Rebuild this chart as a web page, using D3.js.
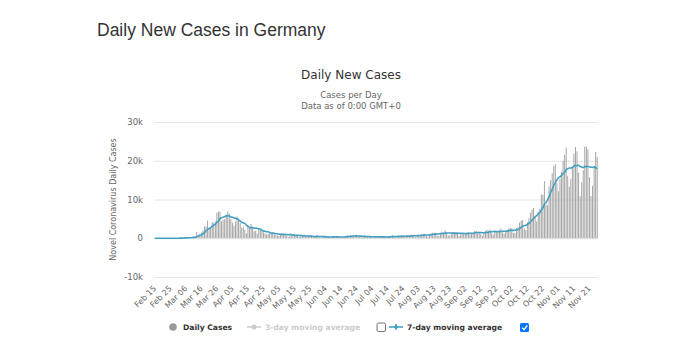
<!DOCTYPE html>
<html>
<head>
<meta charset="utf-8">
<script src="https://cdn.jsdelivr.net/npm/d3@7"></script>
<style>
    body { margin: 0; background: #fff; }
    svg { display: block; }
</style>
</head>
<body>
<div id="chartPlaceholder"></div>
<script>
/* first and last day shown on the category axis */
const firstDay = new Date(2020, 1, 15);
const lastDay = new Date(2020, 10, 26);

/* daily new cases, Feb 15 .. Nov 26 */
const casesFeb = [0, 0, 0, 0, 0, 0, 0, 0, 0, 0, 2, 6, 18, 21, 13];
const casesMar = [51, 29, 37, 66, 220, 188, 129, 241, 136, 281, 451, 170, 1597, 910, 1210, 1477, 1985, 3070, 2993, 4528,
    2365, 2660, 4183, 3930, 4337, 6615, 6933, 6824, 4400, 4790, 4923];
const casesApr = [6064, 6922, 6365, 4933, 4031, 3251, 4289, 5633, 4885, 3990, 2737, 2946, 2218, 1287, 3394, 2945, 3699,
    2945, 1842, 1881, 1226, 2357, 2481, 1870, 1514, 1257, 988, 1154, 1304, 1478];
const casesMay = [1639, 945, 793, 679, 685, 947, 1284, 1209, 1251, 667, 357, 933, 798, 933, 913, 620, 583, 342, 513, 797,
    745, 460, 638, 431, 289, 432, 362, 353, 741, 738, 286];
const casesJun = [181, 213, 342, 394, 507, 407, 301, 214, 350, 318, 555, 348, 247, 192, 378, 345, 580, 770, 601, 687,
    537, 503, 587, 630, 477, 687, 256, 262, 498, 466];
const casesJul = [503, 446, 422, 239, 219, 397, 442, 442, 432, 378, 248, 159, 249, 422, 534, 583, 815, 202, 200, 522,
    454, 569, 815, 781, 305, 340, 633, 557, 902, 870, 955];
const casesAug = [240, 509, 879, 741, 1045, 1147, 1122, 555, 436, 966, 1226, 1445, 1449, 1415, 625, 561, 1390, 1707, 1510,
    2034, 1427, 782, 711, 1278, 1576, 1507, 1571, 1479, 610, 1045, 1256];
const casesSep = [1218, 1311, 1453, 1630, 988, 1124, 1348, 1820, 1892, 1484, 1630, 1152, 627, 1407, 1901, 2194, 1916,
    2297, 1345, 922, 1769, 1821, 1769, 2153, 2507, 1411, 1192, 1798, 2089, 2503];
const casesOct = [2673, 2563, 1410, 1382, 2639, 2828, 4058, 4516, 4721, 2467, 2106, 4122, 5132, 6638, 7334, 7830, 5587,
    4325, 6868, 7595, 11287, 11242, 14714, 8685, 8523, 13359, 14964, 16774, 18681, 19059, 14177];
const casesNov = [12097, 15352, 17214, 19990, 21506, 23399, 16017, 13363, 15332, 18487, 21866, 23542, 22461, 16947,
    10824, 14419, 17561, 23648, 23609, 22964, 15741, 10864, 13554, 18633, 22268, 21000];

const yTicks = [-10000, 0, 10000, 20000, 30000];
const labelEvery = 10;

const chartSizes = {
    width: 690,
    height: 353,
    left: 154,
    right: 598,
    top: 122,
    bottom: 277
};

const lineColor = "#41a1c3";
const barColor = "#a2a2a2";
const baseFont = "'DejaVu Sans', Verdana, sans-serif";

var dailyCases = [].concat(casesFeb, casesMar, casesApr, casesMay, casesJun, casesJul, casesAug, casesSep, casesOct, casesNov);
var days = d3.timeDay.range(firstDay, d3.timeDay.offset(lastDay, 1));
var fmt = d3.timeFormat("%b %d");

/* 7-day trailing moving average of the daily values */
var movingAvg = dailyCases.map((v, i) => d3.mean(dailyCases.slice(Math.max(0, i - 6), i + 1)));

var svg = d3.select("#chartPlaceholder")
            .append("svg")
            .attr("width", chartSizes.width)
            .attr("height", chartSizes.height)
            .style("font-family", baseFont);

svg.append("text")
   .attr("x", 97)
   .attr("y", 36)
   .attr("font-family", "'Liberation Sans', Arial, sans-serif")
   .attr("font-size", "17.5px")
   .attr("fill", "#333")
   .text("Daily New Cases in Germany");

svg.append("text")
   .attr("x", 351)
   .attr("y", 79)
   .attr("text-anchor", "middle")
   .attr("font-size", "12px")
   .attr("fill", "#333")
   .text("Daily New Cases");

var sub = svg.append("g")
             .attr("text-anchor", "middle")
             .attr("font-size", "8.5px")
             .attr("fill", "#666");
sub.append("text").attr("x", 351).attr("y", 98).text("Cases per Day");
sub.append("text").attr("x", 351).attr("y", 109).text("Data as of 0:00 GMT+0");

var x = d3.scaleBand()
          .domain(d3.range(dailyCases.length))
          .range([chartSizes.left, chartSizes.right])
          .paddingInner(0.38)
          .paddingOuter(0.2);

var y = d3.scaleLinear()
          .domain([yTicks[0], yTicks[yTicks.length - 1]])
          .range([chartSizes.bottom, chartSizes.top]);

/* grid lines */
svg.append("g")
   .attr("transform", `translate(${chartSizes.left},0)`)
   .call(d3.axisLeft(y).tickValues(yTicks).tickSize(-(chartSizes.right - chartSizes.left)).tickFormat(""))
   .call(g => g.select(".domain").remove())
   .call(g => g.selectAll("line").attr("stroke", "#e6e6e6"));

/* y labels */
svg.append("g")
   .attr("transform", `translate(${chartSizes.left - 8},0)`)
   .call(d3.axisLeft(y).tickValues(yTicks).tickSize(0)
           .tickFormat(d => d === 0 ? "0" : (d / 1000) + "k"))
   .call(g => g.select(".domain").remove())
   .call(g => g.selectAll("text")
               .attr("font-family", baseFont)
               .attr("font-size", "8.5px")
               .attr("fill", "#666"));

svg.append("text")
   .attr("transform", `translate(116, ${(chartSizes.top + chartSizes.bottom) / 2}) rotate(-90)`)
   .attr("text-anchor", "middle")
   .attr("font-size", "8px")
   .attr("fill", "#666")
   .text("Novel Coronavirus Daily Cases");

/* x labels every 10 days, rotated */
svg.append("g")
   .attr("transform", `translate(0,${chartSizes.bottom})`)
   .call(d3.axisBottom(x)
           .tickValues(d3.range(0, dailyCases.length, labelEvery))
           .tickSize(0)
           .tickFormat(i => fmt(days[i])))
   .call(g => g.select(".domain").remove())
   .call(g => g.selectAll("text")
               .attr("font-family", baseFont)
               .attr("font-size", "8px")
               .attr("fill", "#666")
               .attr("text-anchor", "end")
               .attr("dy", null)
               .attr("y", 0)
               .attr("transform", "translate(2,12) rotate(-45)"));

/* bars */
svg.append("g")
   .selectAll("rect")
   .data(dailyCases)
   .join("rect")
   .attr("x", (d, i) => x(i))
   .attr("width", x.bandwidth())
   .attr("y", d => y(Math.max(d, 0)))
   .attr("height", d => Math.abs(y(d) - y(0)))
   .attr("fill", barColor);

/* moving average line */
var line = d3.line()
             .x((d, i) => x(i) + x.bandwidth() / 2)
             .y(d => y(d))
             .curve(d3.curveMonotoneX);

svg.append("path")
   .datum(movingAvg)
   .attr("d", line)
   .attr("fill", "none")
   .attr("stroke", lineColor)
   .attr("stroke-width", 1.6);

/* legend */
var legend = svg.append("g")
                .attr("font-size", "7.6px")
                .attr("font-weight", "bold");
var ly = 327;

legend.append("circle").attr("cx", 173).attr("cy", ly).attr("r", 3.8).attr("fill", "#999");
legend.append("text").attr("x", 183).attr("y", ly + 3).attr("fill", "#333").text("Daily Cases");

legend.append("line").attr("x1", 247).attr("x2", 261).attr("y1", ly).attr("y2", ly)
      .attr("stroke", "#ccc").attr("stroke-width", 1.5);
legend.append("circle").attr("cx", 254).attr("cy", ly).attr("r", 2.5).attr("fill", "#ccc");
legend.append("text").attr("x", 265).attr("y", ly + 3).attr("fill", "#ccc").text("3-day moving average");

legend.append("rect").attr("x", 377).attr("y", ly - 4).attr("width", 8.5).attr("height", 8.5)
      .attr("rx", 1.5).attr("fill", "#fff").attr("stroke", "#767676");

legend.append("line").attr("x1", 389).attr("x2", 403).attr("y1", ly).attr("y2", ly)
      .attr("stroke", lineColor).attr("stroke-width", 1.5);
legend.append("path").attr("d", d3.symbol(d3.symbolDiamond, 14)()).attr("transform", `translate(396,${ly})`)
      .attr("fill", lineColor);
legend.append("text").attr("x", 407).attr("y", ly + 3).attr("fill", "#333").text("7-day moving average");

legend.append("rect").attr("x", 520).attr("y", ly - 4).attr("width", 9).attr("height", 9)
      .attr("rx", 1.5).attr("fill", "#0075ff");
legend.append("path").attr("d", `M522.2,${ly + 0.6} L524,${ly + 2.6} L527.3,${ly - 1.6}`)
      .attr("fill", "none").attr("stroke", "#fff").attr("stroke-width", 1.4);
</script>
</body>
</html>
